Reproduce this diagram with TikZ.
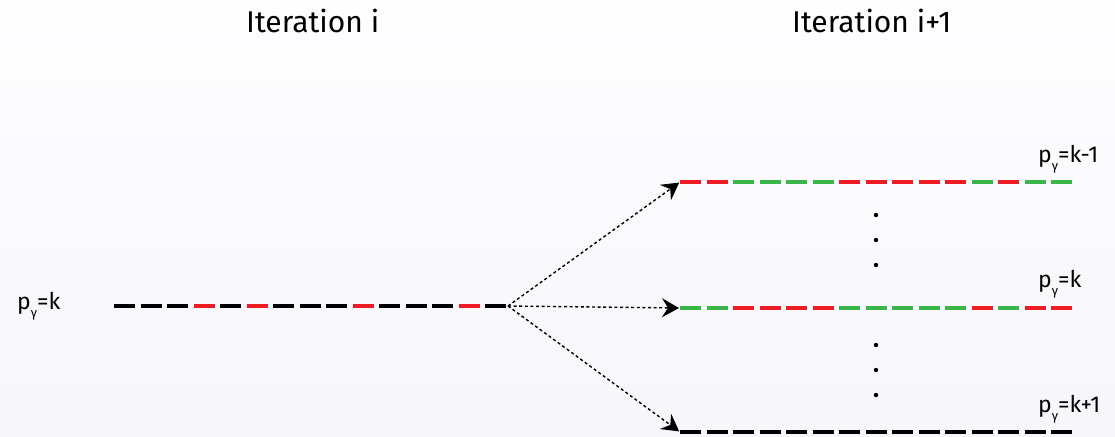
\documentclass[tikz,border=0pt]{standalone}
\usepackage{fontspec}
\setmainfont{Fira Sans}
\usetikzlibrary{arrows.meta,positioning}
\definecolor{segred}{RGB}{237,28,36}
\definecolor{seggreen}{RGB}{57,181,74}
\definecolor{bgtop}{RGB}{254,254,255}
\definecolor{bgbot}{RGB}{246,246,251}

% one row of coloured dashes, starting at a named coordinate
\newcommand{\segrow}[2]{%
  \foreach \c [count=\i from 0] in {#2}
    \draw[seg,\c] ([xshift=\i*26.5pt]#1) -- ++(21,0);}
% p with a lowered gamma
\newcommand{\pg}{p\raisebox{-0.38em}{\fontsize{13}{13}\selectfont γ}}

\begin{document}
\begin{tikzpicture}[x=1pt,y=-1pt]
  \tikzset{seg/.style={line width=4.6pt}}
  \tikzset{flow/.style={dashed,dash pattern=on 3pt off 2.6pt,line width=1.4pt,
      -{Stealth[length=17pt,width=19pt,inset=6pt]},shorten >=1pt}}
  \tikzset{title/.style={font=\fontsize{30}{36}\selectfont,anchor=base west,inner sep=0}}
  \tikzset{plabel/.style={font=\fontsize{23}{27}\selectfont,anchor=base west,inner sep=0}}
  \tikzset{vdot/.style={circle,fill=black,inner sep=0,minimum size=4.4pt}}

  % background
  \shade[top color=bgtop,bottom color=bgbot] (0,0) rectangle (1115,436);
  \useasboundingbox (0,0) rectangle (1115,436);

  % titles
  \node[title] (iterI) at (246,33) {Iteration i};
  \node[title] (iterJ) at (792,33) {Iteration i+1};

  % start points of the rows
  \coordinate (rowL) at (114,306);
  \coordinate (fork) at (508,306);
  \coordinate (rowA) at (680,182);
  \coordinate (rowB) at (680,308);
  \coordinate (rowC) at (680,432);

  % rows of dashes
  \segrow{rowL}{black,black,black,segred,black,segred,black,black,black,segred,black,black,black,segred,black}
  \segrow{rowA}{segred,segred,seggreen,seggreen,seggreen,seggreen,segred,segred,segred,segred,segred,seggreen,segred,seggreen,seggreen}
  \segrow{rowB}{seggreen,seggreen,segred,segred,segred,segred,seggreen,seggreen,seggreen,seggreen,seggreen,segred,seggreen,segred,segred}
  \segrow{rowC}{black,black,black,black,black,black,black,black,black,black,black,black,black,black,black}

  % transitions
  \draw[flow] (fork) -- (rowA);
  \draw[flow] (fork) -- (rowB);
  \draw[flow] (fork) -- (rowC);

  % vertical dots
  \foreach \y [count=\k] in {215,240,265,345,370,395}
    \node[vdot] (dot\k) at (876,\y) {};

  % labels
  \node[plabel] (pk) at (17,309) {\pg=k};
  \node[plabel] (pkm) at (1038,162) {\pg=k-1};
  \node[plabel] (pkb) at (1038,287) {\pg=k};
  \node[plabel] (pkp) at (1038,412) {\pg=k+1};
\end{tikzpicture}
\end{document}
